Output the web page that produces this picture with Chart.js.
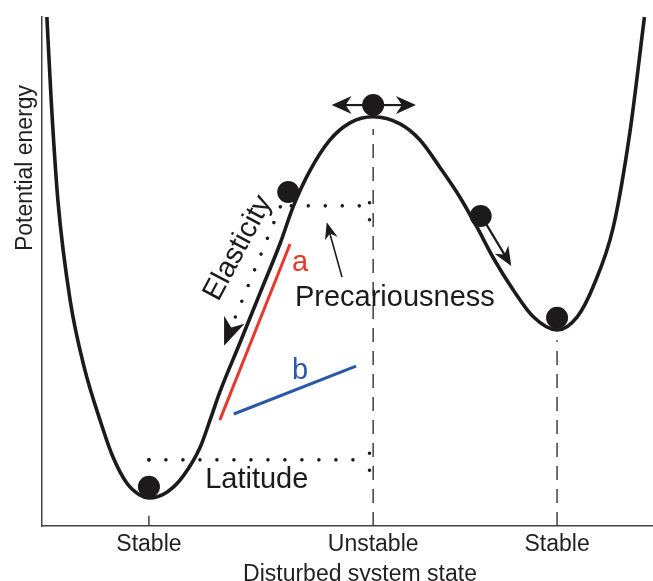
<!DOCTYPE html>
<html>
<head>
<meta charset="utf-8">
<script src="https://cdn.jsdelivr.net/npm/chart.js@4"></script>
<style>
  html, body { margin: 0; padding: 0; background: #fff; overflow: hidden; }
  canvas { display: block; }
</style>
</head>
<body>
<canvas id="chart" width="653" height="581"></canvas>
<script>
// state on x (0-100), potential energy on y (0-100)
const curveX = [0.8, 1.5, 2.6, 4.6, 6.9, 9.5, 11.6, 13.9, 16.0, 17.5, 20.5, 23.1, 25.9, 27.5, 29.1, 32.4, 35.7, 39.0, 41.1, 43.9, 47.1, 50.4, 54.2, 58.6, 61.9, 65.1, 68.4, 71.2, 73.8, 77.1, 80.4, 84.3, 87.6, 90.2, 93.5, 96.2, 98.6];
const curveY = [100, 83.7, 64.0, 44.4, 31.2, 20.8, 13.6, 8.4, 6.1, 5.5, 6.7, 9.8, 15.5, 20.8, 26.3, 36.0, 45.8, 55.6, 62.7, 69.9, 75.8, 79.2, 80.4, 79.0, 75.8, 70.5, 64.6, 58.7, 52.8, 46.4, 41.1, 38.5, 41.1, 47.0, 58.7, 77.2, 100];

const tickValues = [17.5, 54.2, 84.3];
const tickLabels = ['Stable', 'Unstable', 'Stable'];

const ballX = [17.5, 40.3, 54.2, 71.8, 84.3];
const ballY = [7.7, 65.6, 82.7, 60.9, 40.9];

const slopeAX = [29.1, 40.6];
const slopeAY = [20.8, 55.4];
const slopeBX = [31.4, 51.4];
const slopeBY = [22.0, 31.4];

// dashed guides at the unstable and second stable state, short tick at first
const guideUnstableY = [0, 78];
const guideStableY = [0, 36.5];
const tickStableY = [0, 2];

// dotted construction lines
const latitudeX = [17.5, 53.6];
const latitudeY = [13.0, 13.0];
const latitudeLeftY = [13.0, 16.3];
const latitudeRightY = [14.3, 10.3];
const precarX = [40.8, 53.6];
const precarY = [62.9, 62.9];
const precarDownY = [63.5, 59.9];
const elasticX = [39.0, 31.6];
const elasticY = [62.7, 40.9];

function pts(xs, ys) {
  return xs.map((x, i) => ({ x: x, y: ys[i] }));
}
function vline(x, ys) {
  return ys.map(y => ({ x: x, y: y }));
}

const FONT = '"Liberation Sans", Arial, Helvetica, sans-serif';
const INK = '#1c1a1a';

function dotted(data) {
  return { type: 'line', data: data, borderColor: INK, borderWidth: 3.6, borderDash: [0, 17],
           borderCapStyle: 'round', pointRadius: 0, clip: false };
}
function dashed(data) {
  return { type: 'line', data: data, borderColor: '#333', borderWidth: 1.4, borderDash: [14, 9],
           pointRadius: 0, clip: false };
}

function arrowHead(ctx, tx, ty, ang, len, half) {
  ctx.save();
  ctx.translate(tx, ty);
  ctx.rotate(ang);
  ctx.beginPath();
  ctx.moveTo(0, 0);
  ctx.lineTo(-len, -half);
  ctx.lineTo(-len * 0.7, 0);
  ctx.lineTo(-len, half);
  ctx.closePath();
  ctx.fill();
  ctx.restore();
}

function arrow(ctx, x1, y1, x2, y2, w, len, half) {
  const ang = Math.atan2(y2 - y1, x2 - x1);
  ctx.beginPath();
  ctx.lineWidth = w;
  ctx.moveTo(x1, y1);
  ctx.lineTo(x2 - Math.cos(ang) * len * 0.6, y2 - Math.sin(ang) * len * 0.6);
  ctx.stroke();
  arrowHead(ctx, x2, y2, ang, len, half);
}

const annotations = {
  id: 'annotations',
  afterDatasetsDraw(chart) {
    const ctx = chart.ctx;
    const xs = chart.scales.x, ys = chart.scales.y;
    const px = v => xs.getPixelForValue(v);
    const py = v => ys.getPixelForValue(v);
    ctx.save();
    ctx.fillStyle = INK;
    ctx.strokeStyle = INK;

    // double arrow on the unstable ball
    arrow(ctx, px(54.2), py(82.7), px(47.4), py(82.7), 2.2, 20, 9);
    arrow(ctx, px(54.2), py(82.7), px(61.2), py(82.7), 2.2, 20, 9);
    // rolling arrow
    arrow(ctx, px(72.7), py(59.3), px(76.8), py(51.1), 2.2, 19, 8);
    // elasticity arrowhead
    arrowHead(ctx, px(29.8), py(35.4), Math.atan2(py(35.4) - py(40.9), px(29.8) - px(31.6)), 28, 11);
    // precariousness pointer
    arrow(ctx, px(49.1), py(48.9), px(46.6), py(59.7), 1.6, 17, 6.5);

    ctx.textBaseline = 'alphabetic';
    ctx.font = '29px ' + FONT;
    ctx.textAlign = 'left';
    ctx.fillText('Precariousness', px(41.4), py(43.2));
    ctx.fillText('Latitude', px(26.7), py(7.5));
    ctx.fillStyle = '#e8372b';
    ctx.fillText('a', px(40.9), py(50.1));
    ctx.fillStyle = '#2858a8';
    ctx.fillText('b', px(40.9), py(28.9));

    ctx.fillStyle = INK;
    ctx.save();
    ctx.translate(px(32.1), py(54.6));
    ctx.rotate(-62 * Math.PI / 180);
    ctx.textAlign = 'center';
    ctx.textBaseline = 'middle';
    ctx.fillText('Elasticity', 0, 0);
    ctx.restore();

    // axis titles
    ctx.fillStyle = '#231f20';
    ctx.font = '23px ' + FONT;
    ctx.textAlign = 'center';
    ctx.fillText('Disturbed system state', 360, 581);
    ctx.save();
    ctx.translate(32, 168);
    ctx.rotate(-Math.PI / 2);
    ctx.fillText('Potential energy', 0, 0);
    ctx.restore();
    ctx.restore();
  }
};

new Chart(document.getElementById('chart'), {
  type: 'line',
  data: {
    datasets: [
      { type: 'scatter', data: pts(ballX, ballY), pointRadius: 11, pointHoverRadius: 11,
        backgroundColor: INK, borderColor: INK, borderWidth: 0, clip: false },
      { data: pts(curveX, curveY), borderColor: INK, borderWidth: 3.6, pointRadius: 0,
        cubicInterpolationMode: 'monotone', clip: false },
      { data: pts(slopeAX, slopeAY), borderColor: '#e8372b', borderWidth: 3, pointRadius: 0 },
      { data: pts(slopeBX, slopeBY), borderColor: '#2858a8', borderWidth: 3, pointRadius: 0 },
      dotted(pts(latitudeX, latitudeY)),
      dotted(vline(17.5, latitudeLeftY)),
      dotted(vline(53.6, latitudeRightY)),
      dotted(pts(precarX, precarY)),
      dotted(vline(53.6, precarDownY)),
      dotted(pts(elasticX, elasticY)),
      dashed(vline(54.2, guideUnstableY)),
      dashed(vline(84.3, guideStableY)),
      { data: vline(17.5, tickStableY), borderColor: '#333', borderWidth: 1.4, pointRadius: 0 }
    ]
  },
  options: {
    responsive: false,
    animation: false,
    layout: { autoPadding: false, padding: { top: 17, left: 42, right: 0, bottom: 0 } },
    plugins: { legend: { display: false }, tooltip: { enabled: false } },
    scales: {
      x: {
        type: 'linear', min: 0, max: 100,
        grid: { display: false, drawTicks: false },
        border: { display: true, color: '#444', width: 1.5 },
        afterBuildTicks: s => { s.ticks = tickValues.map(v => ({ value: v })); },
        afterFit: s => { s.height = 55; s.paddingRight = 0; s.paddingLeft = 0; },
        ticks: {
          padding: 5, color: '#231f20', font: { family: FONT, size: 23 }, maxRotation: 0,
          autoSkip: false,
          callback: (v, i) => tickLabels[i]
        }
      },
      y: {
        type: 'linear', min: 0, max: 100,
        grid: { display: false, drawTicks: false },
        border: { display: true, color: '#444', width: 1.5 },
        afterFit: s => { s.width = 0; },
        ticks: { display: false }
      }
    }
  },
  plugins: [annotations]
});
</script>
</body>
</html>
